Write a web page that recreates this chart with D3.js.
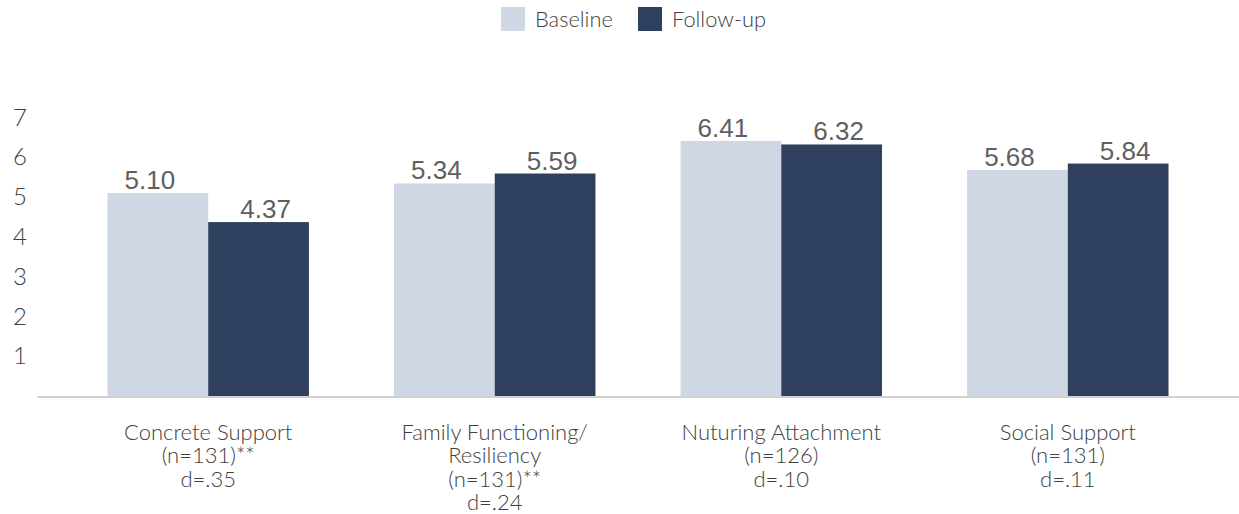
<!DOCTYPE html>
<html>
<head>
<meta charset="utf-8">
<script src="https://cdn.jsdelivr.net/npm/d3@7"></script>
<style>
  html, body { margin: 0; padding: 0; background: #fff; }
  svg { display: block; }
</style>
</head>
<body>
<svg id="chart" width="1239" height="514"></svg>
<script>
// Category labels (multi-line) and summary stats
const categories = ["Concrete Support", "Family Functioning/Resiliency", "Nuturing Attachment", "Social Support"];
const categoryLines = [
  ["Concrete Support", "(n=131)**", "d=.35"],
  ["Family Functioning/", "Resiliency", "(n=131)**", "d=.24"],
  ["Nuturing Attachment", "(n=126)", "d=.10"],
  ["Social Support", "(n=131)", "d=.11"]
];
const seriesNames = ["Baseline", "Follow-up"];
const baselineValues = [5.10, 5.34, 6.41, 5.68];
const followUpValues = [4.37, 5.59, 6.32, 5.84];
const yTicks = [1, 2, 3, 4, 5, 6, 7];

const colors = { "Baseline": "#CFD7E5", "Follow-up": "#2F405E" };
const labelShift = { "Baseline": -8, "Follow-up": 7 };

const svg = d3.select("#chart");
const lightFont = "Lato, 'Open Sans', sans-serif";

const y = d3.scaleLinear().domain([0, 7]).range([396, 117.4]);
const x = d3.scaleBand().domain(categories).range([37, 1239])
  .paddingInner(0.297).paddingOuter(0.246);
const xs = d3.scaleBand().domain(seriesNames).range([0, x.bandwidth()]).padding(0);

const rows = categories.map((c, i) => ({
  cat: c,
  values: [
    { series: "Baseline", value: baselineValues[i] },
    { series: "Follow-up", value: followUpValues[i] }
  ]
}));

// Y axis: tick labels only, no domain line
const yAxis = d3.axisLeft(y).tickValues(yTicks).tickSize(0).tickPadding(0).tickFormat(d3.format("d"));
const yg = svg.append("g").attr("transform", "translate(27,0)").call(yAxis);
yg.select(".domain").remove();
yg.selectAll("text")
  .attr("font-family", lightFont).attr("font-weight", 300)
  .attr("font-size", 24).attr("fill", "#404040");

// Bars
const groups = svg.append("g").selectAll("g").data(rows).join("g")
  .attr("transform", d => `translate(${x(d.cat)},0)`);

groups.selectAll("rect").data(d => d.values).join("rect")
  .attr("x", d => xs(d.series))
  .attr("y", d => y(d.value))
  .attr("width", xs.bandwidth())
  .attr("height", d => y(0) - y(d.value))
  .attr("fill", d => colors[d.series]);

// Value labels
groups.selectAll("text.val").data(d => d.values).join("text")
  .attr("class", "val")
  .attr("x", d => xs(d.series) + xs.bandwidth() / 2 + labelShift[d.series])
  .attr("y", d => y(d.value) - 4)
  .attr("text-anchor", "middle")
  .attr("font-family", "'Liberation Sans', Arial, sans-serif")
  .attr("font-size", 26)
  .attr("fill", "#5F5F5F")
  .text(d => d.value.toFixed(2));

// Category axis baseline
svg.append("line")
  .attr("x1", 37).attr("x2", 1239)
  .attr("y1", y(0) + 1).attr("y2", y(0) + 1)
  .attr("stroke", "#D0D0D0").attr("stroke-width", 2);

// Category labels
const xg = svg.append("g");
categories.forEach((c, i) => {
  const t = xg.append("text")
    .attr("x", x(c) + x.bandwidth() / 2)
    .attr("y", 440)
    .attr("text-anchor", "middle")
    .attr("font-family", lightFont).attr("font-weight", 300)
    .attr("font-size", 22).attr("fill", "#404040");
  categoryLines[i].forEach((line, j) => {
    t.append("tspan")
      .attr("x", x(c) + x.bandwidth() / 2)
      .attr("dy", j === 0 ? 0 : 23.3)
      .text(line);
  });
});

// Legend
const legendItems = [
  { name: "Baseline", sx: 501, tx: 535 },
  { name: "Follow-up", sx: 638, tx: 672 }
];
const lg = svg.append("g");
legendItems.forEach(it => {
  lg.append("rect").attr("x", it.sx).attr("y", 7).attr("width", 24).attr("height", 24)
    .attr("fill", colors[it.name]);
  lg.append("text").attr("x", it.tx).attr("y", 27)
    .attr("font-family", lightFont).attr("font-weight", 300)
    .attr("font-size", 21.8).attr("fill", "#404040")
    .text(it.name);
});
</script>
</body>
</html>
